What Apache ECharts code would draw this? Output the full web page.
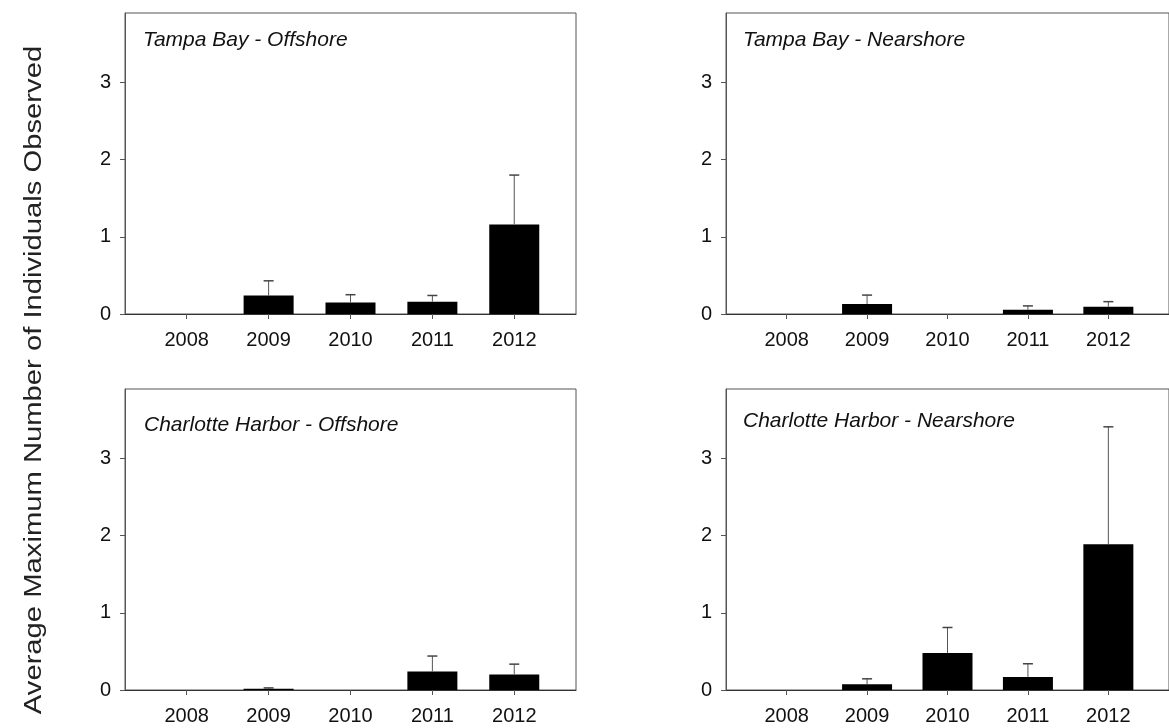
<!DOCTYPE html>
<html>
<head>
<meta charset="utf-8">
<script src="https://cdn.jsdelivr.net/npm/echarts@6/dist/echarts.min.js"></script>
<style>
html,body{margin:0;padding:0;background:#fff;}
#chart{width:1169px;height:728px;}
</style>
</head>
<body>
<div id="chart"></div>
<script>
// ---- data ----
const years = [2008, 2009, 2010, 2011, 2012];
const yTicks = [0, 1, 2, 3];
const yAxisTitle = 'Average Maximum Number of Individuals Observed';
const panelTitles = [
  'Tampa Bay - Offshore',
  'Tampa Bay - Nearshore',
  'Charlotte Harbor - Offshore',
  'Charlotte Harbor - Nearshore'
];
const tbOffshoreMean = [0, 0.24, 0.15, 0.16, 1.16];
const tbOffshoreSE   = [0, 0.19, 0.10, 0.08, 0.64];
const tbNearshoreMean = [0, 0.13, 0, 0.055, 0.095];
const tbNearshoreSE   = [0, 0.115, 0, 0.05, 0.065];
const chOffshoreMean = [0, 0.015, 0, 0.24, 0.20];
const chOffshoreSE   = [0, 0.012, 0, 0.20, 0.135];
const chNearshoreMean = [0, 0.075, 0.48, 0.17, 1.89];
const chNearshoreSE   = [0, 0.07, 0.33, 0.17, 1.52];

const means = [tbOffshoreMean, tbNearshoreMean, chOffshoreMean, chNearshoreMean];
const ses = [tbOffshoreSE, tbNearshoreSE, chOffshoreSE, chNearshoreSE];

// ---- layout ----
const FONT = 'Liberation Sans, Arial, sans-serif';
const grids = [
  {left: 125, top: 13, width: 451, height: 301},
  {left: 726, top: 13, width: 451, height: 301},
  {left: 125, top: 389, width: 451, height: 301},
  {left: 726, top: 389, width: 451, height: 301}
];
const titlePos = [
  {left: 143, top: 30},
  {left: 743, top: 30},
  {left: 144, top: 415},
  {left: 743, top: 411}
];

const option = {
  backgroundColor: '#fff',
  animation: false,
  title: panelTitles.map((t, i) => ({
    text: t,
    left: titlePos[i].left,
    top: titlePos[i].top,
    padding: 0,
    textStyle: {fontFamily: FONT, fontStyle: 'italic', fontWeight: 'normal', fontSize: 21, color: '#111'}
  })),
  grid: grids.map(g => Object.assign({show: true, borderColor: '#555', borderWidth: 1, backgroundColor: 'transparent'}, g)),
  xAxis: grids.map((g, i) => ({
    type: 'value', gridIndex: i,
    min: years[0] - 0.754, max: years[years.length - 1] + 0.754,
    splitLine: {show: false},
    axisLine: {show: true, lineStyle: {color: '#333', width: 1}},
    axisTick: {show: true, customValues: years, length: 5, lineStyle: {color: '#555'}},
    axisLabel: {show: true, customValues: years, formatter: v => String(v), fontFamily: FONT, fontSize: 20, color: '#111', margin: 16}
  })),
  yAxis: grids.map((g, i) => ({
    type: 'value', gridIndex: i, min: 0, max: 3.9,
    splitLine: {show: false},
    axisLine: {show: true, lineStyle: {color: '#555', width: 1}},
    axisTick: {show: true, customValues: yTicks, length: 5, lineStyle: {color: '#555'}},
    axisLabel: {show: true, customValues: yTicks, fontFamily: FONT, fontSize: 20, color: '#111', margin: 14}
  })),
  series: [],
  graphic: [{
    type: 'text',
    x: 35, y: 380,
    rotation: Math.PI / 2,
    scaleX: 1.27,
    style: {text: yAxisTitle, fontFamily: FONT, fontSize: 23, fill: '#222', align: 'center', verticalAlign: 'middle'}
  }]
};

means.forEach((m, i) => {
  option.series.push({
    type: 'bar', xAxisIndex: i, yAxisIndex: i,
    data: years.map((y, k) => [y, m[k]]),
    barWidth: 50,
    itemStyle: {color: '#000'},
    z: 2
  });
  option.series.push({
    type: 'custom', xAxisIndex: i, yAxisIndex: i,
    data: years.map((y, k) => [y, m[k], ses[i][k]]),
    z: 3,
    renderItem: function (params, api) {
      const x = api.value(0), mv = api.value(1), s = api.value(2);
      if (!s) return null;
      const p0 = api.coord([x, mv]);
      const p1 = api.coord([x, mv + s]);
      return {
        type: 'group',
        children: [
          {type: 'line', shape: {x1: p0[0], y1: p0[1], x2: p1[0], y2: p1[1]}, style: {stroke: '#555', lineWidth: 1}},
          {type: 'line', shape: {x1: p1[0] - 5, y1: p1[1], x2: p1[0] + 5, y2: p1[1]}, style: {stroke: '#444', lineWidth: 1.5}}
        ]
      };
    }
  });
});

const chart = echarts.init(document.getElementById('chart'), null, {renderer: 'canvas'});
chart.setOption(option);
</script>
</body>
</html>
